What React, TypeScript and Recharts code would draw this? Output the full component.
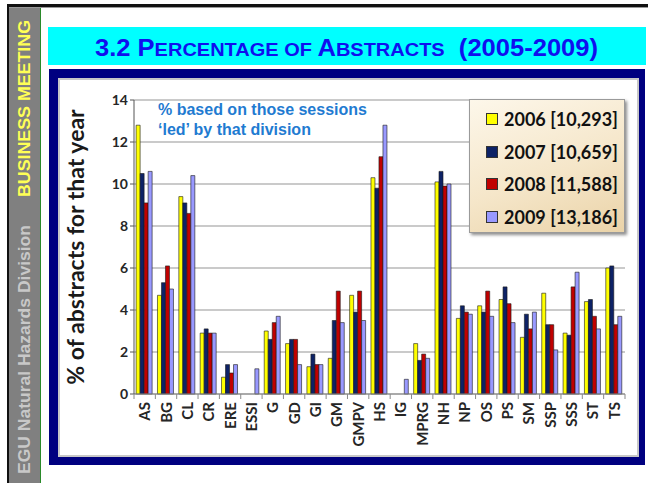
import { BarChart, Bar, XAxis, YAxis, CartesianGrid, Legend } from 'recharts'

// divisions along the x axis
const categories = [
  'AS', 'BG', 'CL', 'CR', 'ERE', 'ESSI', 'G', 'GD', 'GI', 'GM', 'GMPV', 'HS',
  'IG', 'MPRG', 'NH', 'NP', 'OS', 'PS', 'SM', 'SSP', 'SSS', 'ST', 'TS',
]

// % of abstracts per year
const pct2006 = [12.8, 4.7, 9.4, 2.9, 0.8, 0, 3.0, 2.4, 1.3, 1.7, 4.7, 10.3, 0, 2.4, 10.1, 3.6, 4.2, 4.5, 2.7, 4.8, 2.9, 4.4, 6.0]
const pct2007 = [10.5, 5.3, 9.1, 3.1, 1.4, 0, 2.6, 2.6, 1.9, 3.5, 3.9, 9.8, 0, 1.6, 10.6, 4.2, 3.9, 5.1, 3.8, 3.3, 2.8, 4.5, 6.1]
const pct2008 = [9.1, 6.1, 8.6, 2.9, 1.0, 0, 3.4, 2.6, 1.4, 4.9, 4.9, 11.3, 0, 1.9, 9.9, 3.9, 4.9, 4.3, 3.1, 3.3, 5.1, 3.7, 3.3]
const pct2009 = [10.6, 5.0, 10.4, 2.9, 1.4, 1.2, 3.7, 1.4, 1.4, 3.4, 3.5, 12.8, 0.7, 1.7, 10.0, 3.8, 3.7, 3.4, 3.9, 2.1, 5.8, 3.1, 3.7]

const seriesKeys = ['y2006', 'y2007', 'y2008', 'y2009']
const seriesNames = ['2006 [10,293]', '2007 [10,659]', '2008 [11,588]', '2009 [13,186]']
const seriesColors = ['#ffff00', '#0d2266', '#c00000', '#9999ff']
const yTicks = [0, 2, 4, 6, 8, 10, 12, 14]

const data = categories.map((name, i) => ({
  name,
  y2006: pct2006[i],
  y2007: pct2007[i],
  y2008: pct2008[i],
  y2009: pct2009[i],
}))

const labelFont = 'Lato, "Open Sans", sans-serif'

function CategoryTick(props: any) {
  const { x, y, payload, index, visibleTicksCount } = props
  const half = payload?.offset || 10.7
  return (
    <g>
      <line x1={x - half} x2={x - half} y1={y} y2={y + 5} stroke="#8a8a8a" />
      {index === visibleTicksCount - 1 && (
        <line x1={x + half} x2={x + half} y1={y} y2={y + 5} stroke="#8a8a8a" />
      )}
      <text
        transform={`translate(${x + 5.5},${y + 8}) rotate(-90)`}
        textAnchor="end"
        fill="#262626"
        fontFamily={labelFont}
        fontWeight={700}
        fontSize={15}
      >
        {payload.value}
      </text>
    </g>
  )
}

function LegendBox() {
  return (
    <div
      style={{
        width: 156,
        height: 134,
        boxSizing: 'border-box',
        border: '1px solid #9a9a9a',
        background: 'linear-gradient(160deg, #fdf7ea 0%, #f5e6c9 55%, #ead3a8 100%)',
        boxShadow: '2px 2px 3px rgba(0,0,0,0.45)',
        padding: '3px 0 0 16px',
        fontFamily: labelFont,
        fontWeight: 700,
        fontSize: 18,
        color: '#111',
      }}
    >
      {seriesNames.map((n, i) => (
        <div key={n} style={{ display: 'flex', alignItems: 'center', height: 32.5 }}>
          <span
            style={{
              width: 10,
              height: 10,
              background: seriesColors[i],
              border: '1px solid #333',
              marginRight: 6,
              flex: 'none',
            }}
          />
          {n}
        </div>
      ))}
    </div>
  )
}

export default function App() {
  return (
    <div style={{ position: 'absolute', left: 0, top: 0, width: 648, height: 483, background: '#fff', overflow: 'hidden' }}>
      <svg width={648} height={483} style={{ position: 'absolute', left: 0, top: 0 }}>
        <rect x={9} y={7} width={31} height={476} fill="#808080" />
        <rect x={7} y={4} width={2} height={479} fill="#111" />
        <rect x={40} y={7} width={1} height={476} fill="#2a8a2a" />
        <rect x={7} y={4} width={641} height={3} fill="#111" />
        <rect x={9} y={7} width={639} height={1} fill="#999" />
        <text
          transform="translate(29.5,474) rotate(-90)"
          fill="#c8c8c8"
          fontFamily="Liberation Sans, Arial, sans-serif"
          fontWeight={700}
          fontSize={16}
          textLength={249}
          lengthAdjust="spacingAndGlyphs"
        >
          EGU Natural Hazards Division
        </text>
        <text
          transform="translate(29.5,197) rotate(-90)"
          fill="#ffff55"
          fontFamily="Liberation Sans, Arial, sans-serif"
          fontWeight={700}
          fontSize={16}
          textLength={177}
          lengthAdjust="spacingAndGlyphs"
        >
          BUSINESS MEETING
        </text>
        <rect x={48} y={27} width={598} height={38} fill="#00ffff" />
        <text
          x={95}
          y={56}
          fill="#1010ee"
          fontFamily="Liberation Sans, Arial, sans-serif"
          fontWeight={700}
          fontSize={23}
          textLength={503}
          lengthAdjust="spacingAndGlyphs"
        >
          <tspan>3.2 P</tspan>
          <tspan fontSize={18}>ERCENTAGE OF </tspan>
          <tspan>A</tspan>
          <tspan fontSize={18}>BSTRACTS</tspan>
          <tspan>{'\u00a0\u00a0(2005-2009)'}</tspan>
        </text>
      </svg>

      <div style={{ position: 'absolute', left: 49, top: 69, width: 596, height: 396, background: '#000080' }} />
      <div
        style={{
          position: 'absolute',
          left: 58,
          top: 78,
          width: 581,
          height: 379,
          boxSizing: 'border-box',
          border: '2px solid #c8c8c8',
          background: '#fff',
        }}
      />

      <div style={{ position: 'absolute', left: 60, top: 80, width: 577, height: 375 }}>
        <BarChart
          width={577}
          height={375}
          data={data}
          margin={{ top: 20, right: 12, bottom: 1, left: 0 }}
          barCategoryGap="10%"
          barGap={0}
        >
          <CartesianGrid vertical={false} stroke="#b8b8b8" strokeWidth={1.5} />
          <XAxis
            dataKey="name"
            interval={0}
            height={60}
            tickSize={0}
            tickMargin={0}
            tickLine={false}
            axisLine={{ stroke: '#8a8a8a' }}
            tick={<CategoryTick />}
          />
          <YAxis
            width={74}
            domain={[0, 14]}
            ticks={yTicks}
            tickSize={4}
            tickMargin={2}
            axisLine={{ stroke: '#555' }}
            tickLine={{ stroke: '#555' }}
            tick={{ fill: '#262626', fontSize: 14, fontWeight: 700, fontFamily: labelFont }}
            label={{
              value: '% of abstracts for that year',
              angle: -90,
              position: 'insideLeft',
              offset: 16,
              style: { textAnchor: 'middle', fontFamily: labelFont, fontWeight: 700, fontSize: 23, fill: '#1a1a1a' },
            }}
          />
          <YAxis
            yAxisId="right"
            orientation="right"
            width={0}
            domain={[0, 14]}
            tick={false}
            tickLine={false}
            axisLine={{ stroke: '#a8a8a8', strokeWidth: 1.5 }}
          />
          <Legend
            layout="vertical"
            align="center"
            verticalAlign="middle"
            wrapperStyle={{ left: 409, top: 19, width: 156 }}
            content={() => <LegendBox />}
          />
          {seriesKeys.map((k, i) => (
            <Bar
              key={k}
              dataKey={k}
              name={seriesNames[i]}
              fill={seriesColors[i]}
              stroke="#1a1a1a"
              strokeWidth={0.6}
              isAnimationActive={false}
            />
          ))}
        </BarChart>
        <div
          style={{
            position: 'absolute',
            left: 98,
            top: 20,
            fontFamily: 'Liberation Sans, Arial, sans-serif',
            fontWeight: 700,
            fontSize: 16,
            lineHeight: '20px',
            color: '#1f7bd1',
            whiteSpace: 'nowrap',
          }}
        >
          % based on those sessions
          <br />
          {'\u2018led\u2019 by that division'}
        </div>
      </div>
    </div>
  )
}
